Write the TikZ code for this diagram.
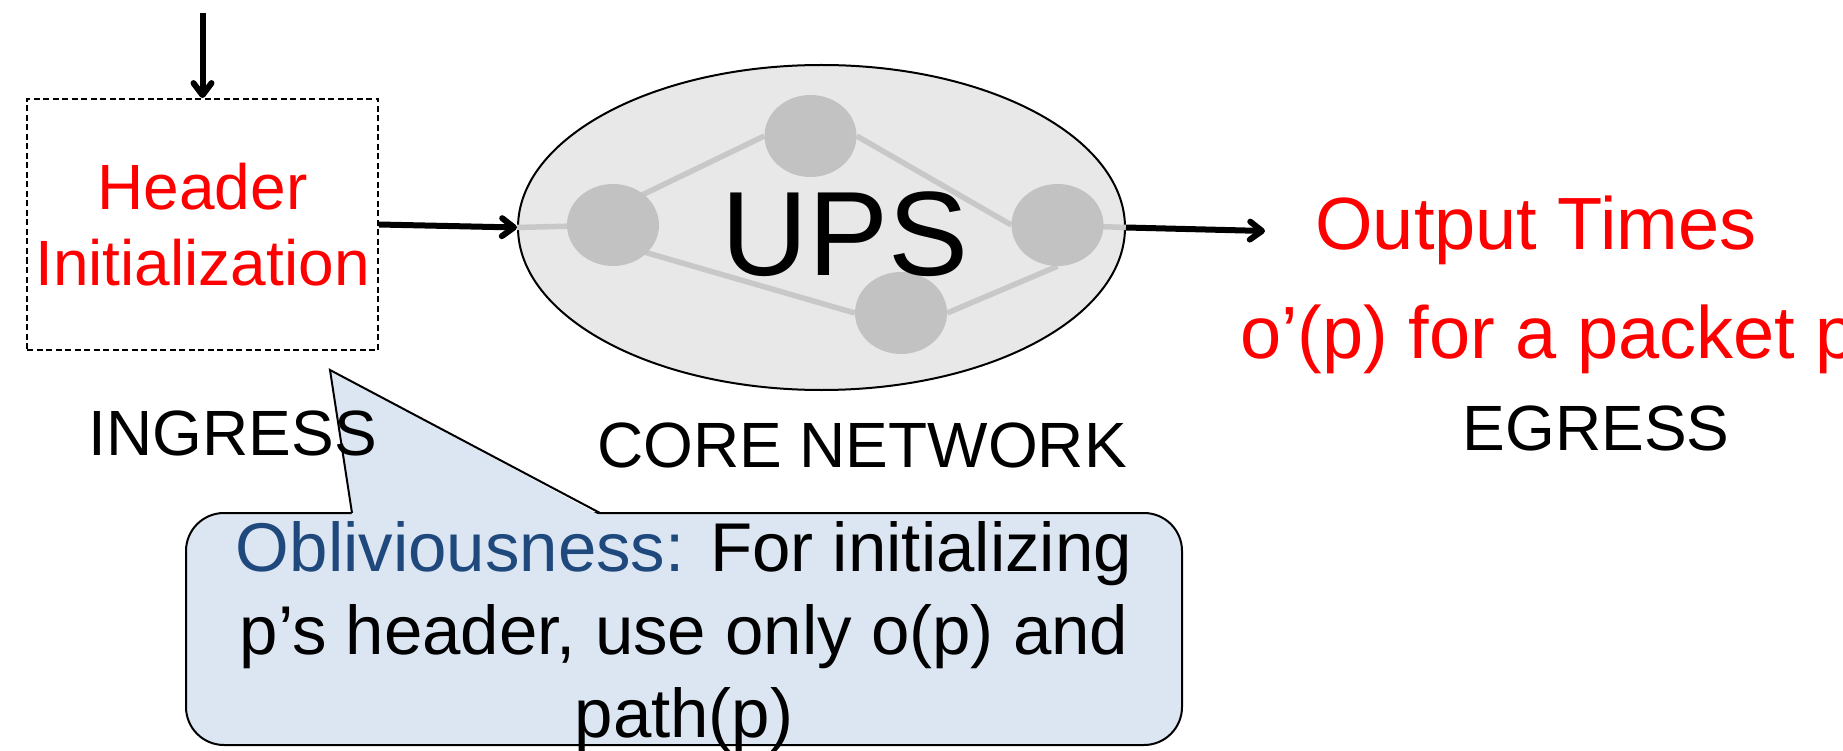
\documentclass[tikz,border=0pt]{standalone}
\usepackage{fontspec}
\setmainfont{Liberation Sans}
\usetikzlibrary{arrows.meta,shapes.geometric,calc}

\definecolor{corefill}{HTML}{E8E8E8}
\definecolor{hubfill}{HTML}{C2C2C2}
\definecolor{linkcol}{HTML}{C8C8C8}
\definecolor{callfill}{HTML}{DCE6F2}
\definecolor{obliv}{HTML}{1F497D}
\definecolor{hot}{HTML}{FF0000}

\pgfdeclarelayer{back}
\pgfdeclarelayer{mid}
\pgfsetlayers{back,mid,main}

\newcommand\fsz[2]{\fontsize{#1}{#2}\selectfont}

\begin{document}
\begin{tikzpicture}[x=1pt,y=-1pt,
  arr/.style={line width=6pt,-{Straight Barb[length=12pt,width=18pt,round]}},
  dashbox/.style={draw,dash pattern=on 6pt off 3.5pt,line width=1.8pt,
    minimum width=351pt,minimum height=251pt,inner sep=0pt,align=center,
    text=hot,font=\fsz{64}{76}},
  hub/.style={ellipse,fill=hubfill,minimum width=92pt,minimum height=82pt,inner sep=0pt},
  link/.style={draw=linkcol,line width=5.5pt},
  tag/.style={inner sep=0pt,font=\fsz{64}{64}},
  redtag/.style={inner sep=0pt,text=hot,font=\fsz{74}{74}}]
\useasboundingbox (0,0) rectangle (1843,751);
\clip (0,0) rectangle (1843,751);

% ingress box
\node[dashbox] (hdr) at (202.5,224.5) {Header\\Initialization};

% core network cloud
\begin{pgfonlayer}{back}
\node[ellipse,draw,line width=2pt,fill=corefill,minimum width=607pt,
      minimum height=325pt,inner sep=0pt] (core) at (821.5,227.5) {};
\end{pgfonlayer}

\node[hub] (n1) at (613,225) {};
\node[hub] (n2) at (810.5,136) {};
\node[hub] (n3) at (1057.5,225) {};
\node[hub] (n4) at (901,313) {};

\begin{pgfonlayer}{mid}
\draw[link] (core.west) -- (n1.center);
\draw[link] ($(n1.center)+(0,-16)$) -- (n2.west);
\draw[link] (n2.east) -- (n3.west);
\draw[link] ($(n1.center)+(0,18)$) -- (n4.west);
\draw[link] (n4.east) -- (n3.south);
\draw[link] (n3.center) -- (core.east);
\end{pgfonlayer}

\node[anchor=base,inner sep=0pt,font=\fsz{120}{120}] (ups) at (845,275) {UPS};

% arrows
\coordinate (feed) at (202.5,13);
\coordinate (outtip) at (1265,231);
\draw[arr] (feed) -- (hdr.north);
\draw[arr] (hdr.east) -- (core.west);
\draw[arr] (core.east) -- (outtip);

% callout
\node[draw,line width=2pt,fill=callfill,rounded corners=38pt,
      minimum width=996pt,minimum height=232pt] (callout) at (684,629) {};
\coordinate (tip) at (330,370);
\coordinate (tl) at (352,513);
\coordinate (tr) at (600,513);
\fill[callfill] ($(tl)+(0,2.5)$) -- (tip) -- ($(tr)+(0,2.5)$) -- cycle;
\draw[line width=2pt,line join=miter] (tl) -- (tip) -- (tr);
\node[align=center,inner sep=0pt,font=\fsz{69}{83}] (calltxt) at (684,637)
  {\textcolor{obliv}{Obliviousness:} For initializing\\p’s header, use only o(p) and\\path(p)};

% labels
\node[redtag,anchor=base] (otimes) at (1536,250) {Output Times};
\node[redtag,anchor=base west] (opline) at (1240,358) {o’(p) for a packet p};
\node[tag,anchor=base] (egress) at (1596,450) {EGRESS};
\node[tag,anchor=base] (ingress) at (233,455) {INGRESS};
\node[tag,anchor=base] (corelbl) at (862,467) {CORE NETWORK};
\end{tikzpicture}
\end{document}
